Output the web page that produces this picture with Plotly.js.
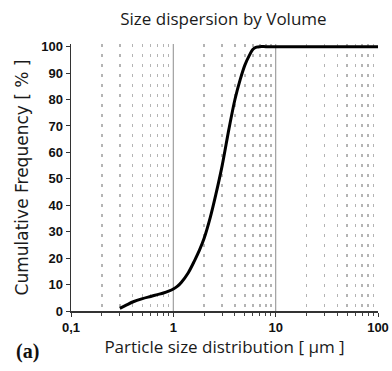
<!DOCTYPE html>
<html><head><meta charset="utf-8">
<script src="https://cdn.plot.ly/plotly-3.0.1.min.js"></script>
<style>html,body{margin:0;padding:0;background:#fff}#chart{width:392px;height:371px}</style>
</head><body><div id="chart"></div>
<script>
const particleSize = [0.3, 0.35, 0.4, 0.5, 0.6, 0.7, 0.8, 0.9, 1.0, 1.1, 1.2, 1.4, 1.6, 1.8, 2.0, 2.3, 2.6, 3.0, 3.5, 4.0, 4.5, 5.0, 5.5, 6.0, 6.5, 7, 8, 10, 20, 50, 100];
const cumulative   = [1, 2.3, 3.4, 4.7, 5.5, 6.2, 6.8, 7.5, 8.3, 9.4, 10.9, 14.5, 18.8, 23, 27.5, 35.5, 44, 55, 69, 80, 87.5, 93, 96.5, 99, 99.8, 100, 100, 100, 100, 100, 100];
const xTickVals = [0.1, 1, 10, 100];
const xTickText = ['0,1', '1', '10', '100'];
const minorVals = [0.2,0.3,0.4,0.5,0.6,0.7,0.8,0.9,2,3,4,5,6,7,8,9,20,30,40,50,60,70,80,90];
const majorGrid = [1, 10];

const shapes = majorGrid.map(v => ({type:'line', xref:'x', yref:'y', x0:v, x1:v, y0:0, y1:101, line:{color:'#a0a0a0', width:1.2}, layer:'below'}));

Plotly.newPlot('chart', [{
  x: particleSize, y: cumulative, type:'scatter', mode:'lines',
  line:{color:'#000', width:3, shape:'spline', smoothing:0.8}, hoverinfo:'skip'
}], {
  width:392, height:371,
  margin:{l:71, r:14, t:44, b:60},
  paper_bgcolor:'#fff', plot_bgcolor:'#fff',
  showlegend:false,
  title:{text:'Size dispersion by Volume', font:{family:'Open Sans', size:17, color:'#1a1a1a'}, x:0.57, xanchor:'center', y:0.948, yanchor:'middle'},
  xaxis:{type:'log', range:[-1, 2], tickvals:xTickVals, ticktext:xTickText, showgrid:false, zeroline:false,
    showline:true, linecolor:'#333', linewidth:1.5, ticks:'outside', ticklen:4, tickcolor:'#333',
    tickfont:{family:'Liberation Sans', size:13, color:'#111', weight:'bold'},
    minor:{tickvals:minorVals, showgrid:true, griddash:'3px,7px', gridcolor:'#b4b4b4', gridwidth:1.5, ticks:'outside', ticklen:3, tickcolor:'#444'},
    title:{text:'Particle size distribution [ µm ]', font:{family:'Open Sans', size:17, color:'#1a1a1a'}, standoff:6}},
  yaxis:{range:[0, 101], tickvals:[0,10,20,30,40,50,60,70,80,90,100], showgrid:false, zeroline:false,
    showline:true, linecolor:'#333', linewidth:1.5, ticks:'outside', ticklen:4, tickcolor:'#333',
    tickfont:{family:'Liberation Sans', size:13, color:'#111', weight:'bold'},
    title:{text:'Cumulative Frequency [ % ]', font:{family:'DejaVu Sans', size:17, color:'#1a1a1a'}, standoff:8}},
  shapes: shapes,
  annotations:[{text:'<b>(a)</b>', xref:'paper', yref:'paper', x:-0.185, y:-0.15, xanchor:'left', yanchor:'middle', showarrow:false, font:{family:'Liberation Serif', size:20, color:'#111'}}]
}, {displayModeBar:false, staticPlot:true});
</script></body></html>
